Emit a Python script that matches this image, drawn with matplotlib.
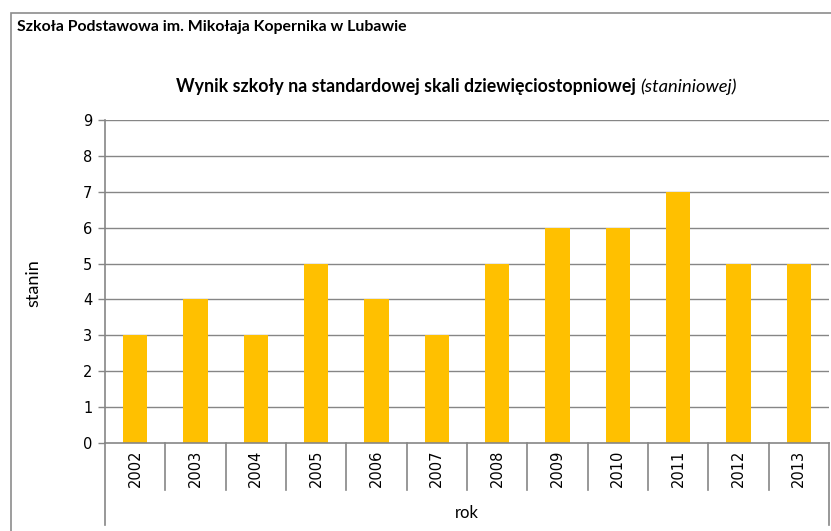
import matplotlib
matplotlib.use("Agg")
import matplotlib.pyplot as plt
from matplotlib.patches import Rectangle
import matplotlib.transforms as mtransforms

years = ["2002", "2003", "2004", "2005", "2006", "2007", "2008", "2009", "2010", "2011", "2012", "2013"]
stanin = [3, 4, 3, 5, 4, 3, 5, 6, 6, 7, 5, 5]
yticks = [0, 1, 2, 3, 4, 5, 6, 7, 8, 9]

W, H = 831, 531
fig = plt.figure(figsize=(W / 100, H / 100), dpi=100)
fig.patch.set_facecolor("white")

# outer border of chart area
fig.patches.append(Rectangle((11 / W, -0.1), 1.2, 1 - 13 / H + 0.1, transform=fig.transFigure,
                             fill=False, edgecolor="#8c8c8c", linewidth=1.2))

ax = fig.add_axes([105 / W, (H - 443) / H, 724 / W, 323 / H])
x = [i + 0.5 for i in range(len(years))]
ax.bar(x, stanin, width=0.4, color="#FFC000", zorder=3)
ax.set_xlim(0, len(years))
ax.set_ylim(0, 9)
ax.set_yticks(yticks)
ax.set_yticklabels([str(v) for v in yticks], fontsize=10.5, family="DejaVu Sans")
ax.tick_params(axis="y", length=5, width=1, color="#868686", pad=4)
ax.set_xticks([])
for y in yticks[1:]:
    ax.axhline(y, color="#868686", linewidth=1, zorder=1)
for s in ["top", "right", "bottom"]:
    ax.spines[s].set_visible(False)
ax.spines["left"].set_color("#868686")
ax.spines["left"].set_linewidth(1.2)

trans = mtransforms.blended_transform_factory(ax.transData, ax.transAxes)
ax.plot([0, 12], [0, 0], transform=trans, color="#868686", lw=1.2, clip_on=False, zorder=4)
for i in range(len(years) + 1):
    lo = -0.254 if i in (0, len(years)) else -0.1455
    ax.plot([i, i], [0, lo], transform=trans, color="#868686", lw=1.2, clip_on=False)
for xi, lab in zip(x, years):
    ax.text(xi, -0.0775, lab, transform=trans, rotation=90, ha="center", va="center",
            fontsize=10.5, family="DejaVu Sans")

fig.text(17 / W, 1 - 27 / H, "Szkoła Podstawowa im. Mikołaja Kopernika w Lubawie",
         fontsize=11.4, fontweight="bold", family="Lato", ha="left", va="center")
fig.text(636 / W, 1 - 87 / H, "Wynik szkoły na standardowej skali dziewięciostopniowej",
         fontsize=12.8, fontweight="bold", family="Lato", ha="right", va="center")
fig.text(640 / W, 1 - 87 / H, "(staniniowej)",
         fontsize=13.2, style="italic", family="Lato", ha="left", va="center")
fig.text(33 / W, 1 - 283 / H, "stanin", rotation=90, fontsize=13, family="Lato",
         ha="center", va="center")
fig.text(467 / W, 1 - 513 / H, "rok", fontsize=12, family="Lato", ha="center", va="center")

fig.savefig("out.png", dpi=100, facecolor="white")
